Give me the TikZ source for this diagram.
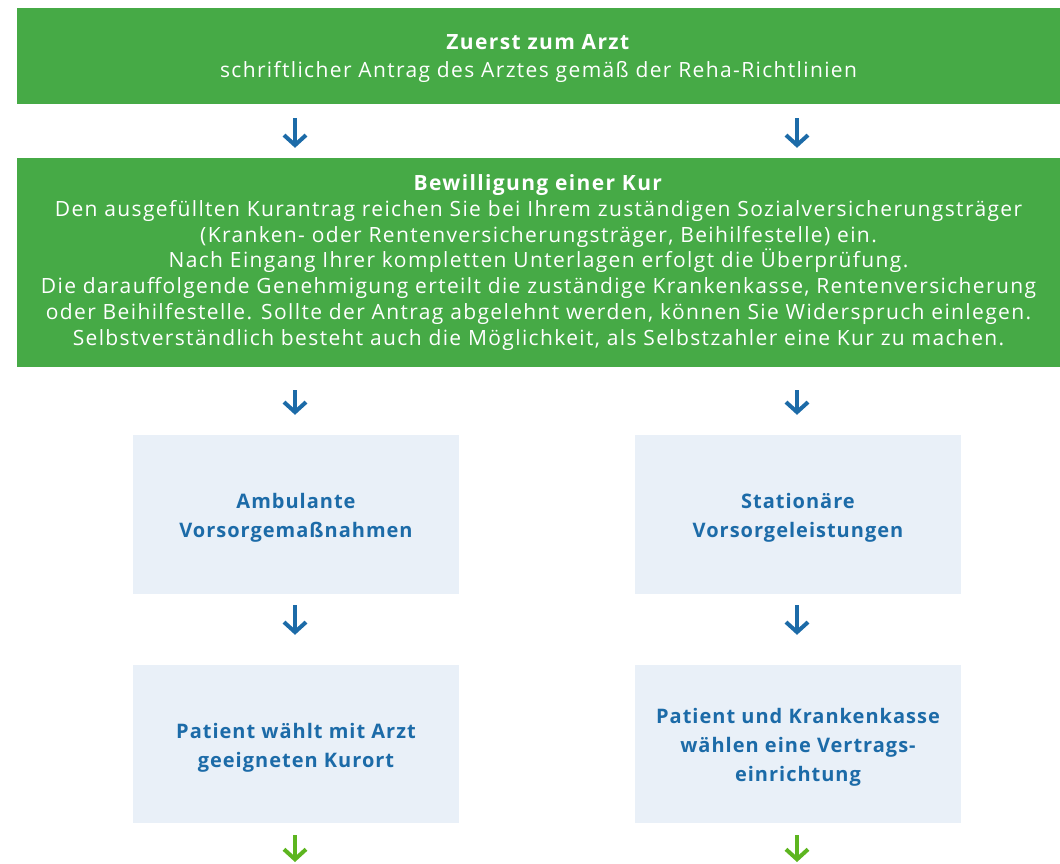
\documentclass[tikz,border=0pt]{standalone}
\usepackage{fontspec}
\setmainfont{Open Sans}
\usetikzlibrary{arrows.meta}
\definecolor{kgreen}{HTML}{46AA46}
\definecolor{kblue}{HTML}{1C6BA8}
\definecolor{klight}{HTML}{E9F0F8}
\definecolor{karrowgreen}{HTML}{5DB520}
\newcommand{\lowerby}[2]{\raisebox{-#1}[\height][\depth]{\begin{tabular}{@{}c@{}}#2\end{tabular}}}
\tikzset{
  greenbox/.style={fill=kgreen, text=white, inner sep=0pt, align=center, minimum width=1043pt, font=\fontsize{21}{25.8}\selectfont\addfontfeatures{LetterSpace=6.5}},
  lightbox/.style={fill=klight, text=kblue, inner sep=0pt, align=center, minimum width=326pt, font=\fontsize{20}{28.8}\selectfont\bfseries\addfontfeatures{LetterSpace=5}},
  flowarrow/.style={draw=kblue, line width=4pt, -{Straight Barb[length=10pt,width=22pt,line width=4pt]}},
  greenarrow/.style={flowarrow, draw=karrowgreen}
}
\begin{document}
\begin{tikzpicture}[x=1pt,y=-1pt]
\useasboundingbox (0,0) rectangle (1060,863);
\node[greenbox, minimum height=96pt] (top) at (538.5,56) {\lowerby{2.5pt}{\textbf{Zuerst zum Arzt}\\[2pt]schriftlicher Antrag des Arztes gemäß der Reha-Richtlinien}};
\node[greenbox, minimum height=209pt] (kur) at (538.5,262.5) {\textbf{Bewilligung einer Kur}\\
Den ausgefüllten Kurantrag reichen Sie bei Ihrem zuständigen Sozialversicherungsträger\\
(Kranken- oder Rentenversicherungsträger, Beihilfestelle) ein.\\
Nach Eingang Ihrer kompletten Unterlagen erfolgt die Überprüfung.\\
Die darauffolgende Genehmigung erteilt die zuständige Krankenkasse, Rentenversicherung\\
oder Beihilfestelle. Sollte der Antrag abgelehnt werden, können Sie Widerspruch einlegen.\\
Selbstverständlich besteht auch die Möglichkeit, als Selbstzahler eine Kur zu machen.};
\node[lightbox, minimum height=159pt] (amb) at (296,514.5) {\lowerby{3pt}{Ambulante\\Vorsorgemaßnahmen}};
\node[lightbox, minimum height=159pt] (stat) at (798,514.5) {\lowerby{3pt}{Stationäre\\Vorsorgeleistungen}};
\node[lightbox, minimum height=158pt] (wahl) at (296,744) {\lowerby{3pt}{Patient wählt mit Arzt\\geeigneten Kurort}};
\node[lightbox, minimum height=158pt] (kasse) at (798,744) {\lowerby{3pt}{Patient und Krankenkasse\\wählen eine Vertrags-\\einrichtung}};
\coordinate (endL) at (295,863);
\coordinate (endR) at (797,863);
\draw[flowarrow, shorten <=14pt, shorten >=10pt] (top.south -| endL) -- (kur.north -| endL);
\draw[flowarrow, shorten <=14pt, shorten >=10pt] (top.south -| endR) -- (kur.north -| endR);
\draw[flowarrow, shorten <=23pt, shorten >=20pt] (kur.south -| endL) -- (amb.north -| endL);
\draw[flowarrow, shorten <=23pt, shorten >=20pt] (kur.south -| endR) -- (stat.north -| endR);
\draw[flowarrow, shorten <=11pt, shorten >=30pt] (amb.south -| endL) -- (wahl.north -| endL);
\draw[flowarrow, shorten <=11pt, shorten >=30pt] (stat.south -| endR) -- (kasse.north -| endR);
\draw[greenarrow, shorten <=12pt, shorten >=1pt] (wahl.south -| endL) -- (endL);
\draw[greenarrow, shorten <=12pt, shorten >=1pt] (kasse.south -| endR) -- (endR);
\end{tikzpicture}
\end{document}
